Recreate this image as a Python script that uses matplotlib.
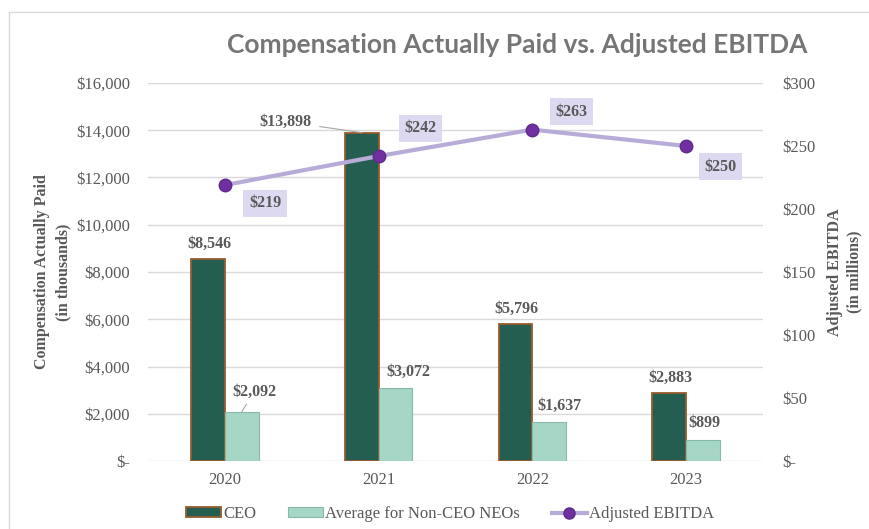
import numpy as np
import matplotlib
matplotlib.use('Agg')
import matplotlib.pyplot as plt
from matplotlib.patches import Patch
from matplotlib.lines import Line2D

years = ['2020', '2021', '2022', '2023']
ceo = [8546, 13898, 5796, 2883]
neo = [2092, 3072, 1637, 899]
ebitda = [219, 242, 263, 250]

ceo_labels = ['$8,546', '$13,898', '$5,796', '$2,883']
neo_labels = ['$2,092', '$3,072', '$1,637', '$899']
ebitda_labels = ['$219', '$242', '$263', '$250']

left_ticks = np.arange(0, 16001, 2000)
left_ticklabels = ['$-'] + ['${:,}'.format(v) for v in left_ticks[1:]]
right_ticks = np.arange(0, 301, 50)
right_ticklabels = ['$-'] + ['${}'.format(v) for v in right_ticks[1:]]

serif = 'Liberation Serif'
grey = '#595959'
ceo_col = '#245E50'
ceo_edge = '#9A5A2C'
neo_col = '#A6D7C6'
neo_edge = '#86B9A8'
line_col = '#B7ABD8'
mark_col = '#7030A0'
box_col = '#DDD9F0'

fig = plt.figure(figsize=(8.7, 5.29), dpi=100)
ax = fig.add_axes([148/870, 1-461/529, (763-148)/870, (461-83)/529])
ax2 = ax.twinx()

x = np.arange(len(years))
w = 0.22
ax.bar(x - w/2, ceo, w, color=ceo_col, edgecolor=ceo_edge, linewidth=1.3, zorder=3)
ax.bar(x + w/2, neo, w, color=neo_col, edgecolor=neo_edge, linewidth=0.8, zorder=3)

ax.set_xlim(-0.5, 3.5)
ax.set_ylim(0, 16000)
ax.set_yticks(left_ticks)
ax.set_yticklabels(left_ticklabels)
ax.set_xticks(x)
ax.set_xticklabels(years)
ax.grid(axis='y', color='#D9D9D9', linewidth=1, zorder=0)
ax.set_axisbelow(True)
for s in ax.spines.values():
    s.set_visible(False)
for s in ax2.spines.values():
    s.set_visible(False)
ax.tick_params(axis='y', length=0, pad=13, labelsize=12, labelcolor=grey)
ax.tick_params(axis='x', length=0, pad=8, labelsize=12, labelcolor=grey)
for t in ax.get_yticklabels() + ax.get_xticklabels():
    t.set_family(serif)

ax.set_ylabel('Compensation Actually Paid\n(in thousands)', family=serif, fontsize=11.5,
              fontweight='bold', color=grey, labelpad=3, linespacing=1.45)

# bar value labels
lab_kw = dict(family=serif, fontsize=11.5, fontweight='bold', color=grey,
              ha='center', va='center', textcoords='offset points')
for i in range(len(years)):
    if i == 1:
        ax.annotate(ceo_labels[i], (x[i] - w/2, ceo[i]), xytext=(-55, 8), **lab_kw,
                    arrowprops=dict(arrowstyle='-', color='#A6A6A6', lw=0.8,
                                    shrinkA=4, shrinkB=0))
    else:
        ax.annotate(ceo_labels[i], (x[i] - w/2, ceo[i]), xytext=(1, 11), **lab_kw)
neo_off = [(9, 14), (9, 12), (7, 12), (1, 12)]
for i in range(len(years)):
    if i == 0:
        ax.annotate(neo_labels[i], (x[i] + w/2, neo[i]), xytext=neo_off[i], **lab_kw,
                    arrowprops=dict(arrowstyle='-', color='#A6A6A6', lw=0.8,
                                    shrinkA=1, shrinkB=0))
    else:
        ax.annotate(neo_labels[i], (x[i] + w/2, neo[i]), xytext=neo_off[i], **lab_kw)

# EBITDA line
ax2.plot(x, ebitda, color=line_col, linewidth=3, marker='o', markersize=9,
         markerfacecolor=mark_col, markeredgecolor='#5E2A8C', zorder=4)
ax2.set_ylim(0, 300)
ax2.set_yticks(right_ticks)
ax2.set_yticklabels(right_ticklabels)
ax2.tick_params(axis='y', length=0, pad=14, labelsize=12, labelcolor=grey)
for t in ax2.get_yticklabels():
    t.set_family(serif)
ax2.set_ylabel('Adjusted EBITDA\n(in millions)', family=serif, fontsize=11.5,
               fontweight='bold', color=grey, labelpad=8, linespacing=1.3)

eb_off = [(29, -13), (30, 20), (28, 13), (25, -15)]
for i in range(len(years)):
    ax2.annotate(ebitda_labels[i], (x[i], ebitda[i]), xytext=eb_off[i],
                 textcoords='offset points', ha='center', va='center',
                 family=serif, fontsize=11.5, fontweight='bold', color=grey,
                 bbox=dict(boxstyle='square,pad=0.35', facecolor=box_col, edgecolor='none'),
                 zorder=5)

fig.text(517/870, 1-45/529, 'Compensation Actually Paid vs. Adjusted EBITDA',
         family='Lato', fontsize=19, fontweight='bold', color='#767676',
         ha='center', va='center')

handles = [Patch(facecolor=ceo_col, edgecolor=ceo_edge, linewidth=1.3),
           Patch(facecolor=neo_col, edgecolor=neo_edge, linewidth=0.8),
           Line2D([0], [0], color=line_col, linewidth=3, marker='o', markersize=8,
                  markerfacecolor=mark_col, markeredgecolor='#5E2A8C')]
leg = fig.legend(handles, ['CEO', 'Average for Non-CEO NEOs', 'Adjusted EBITDA'],
                 loc='center', bbox_to_anchor=(450/870, 1-514/529), ncol=3, frameon=False,
                 prop={'family': serif, 'size': 12}, handlelength=2.1, handleheight=0.55,
                 handletextpad=0.15, columnspacing=1.9)
for t in leg.get_texts():
    t.set_color(grey)

# outer frame
fig.add_artist(Line2D([9/870, 9/870], [0, 1-12/529], color='#D9D9D9', linewidth=1))
fig.add_artist(Line2D([9/870, 1], [1-12/529, 1-12/529], color='#D9D9D9', linewidth=1))

fig.savefig('out.png', dpi=100)
